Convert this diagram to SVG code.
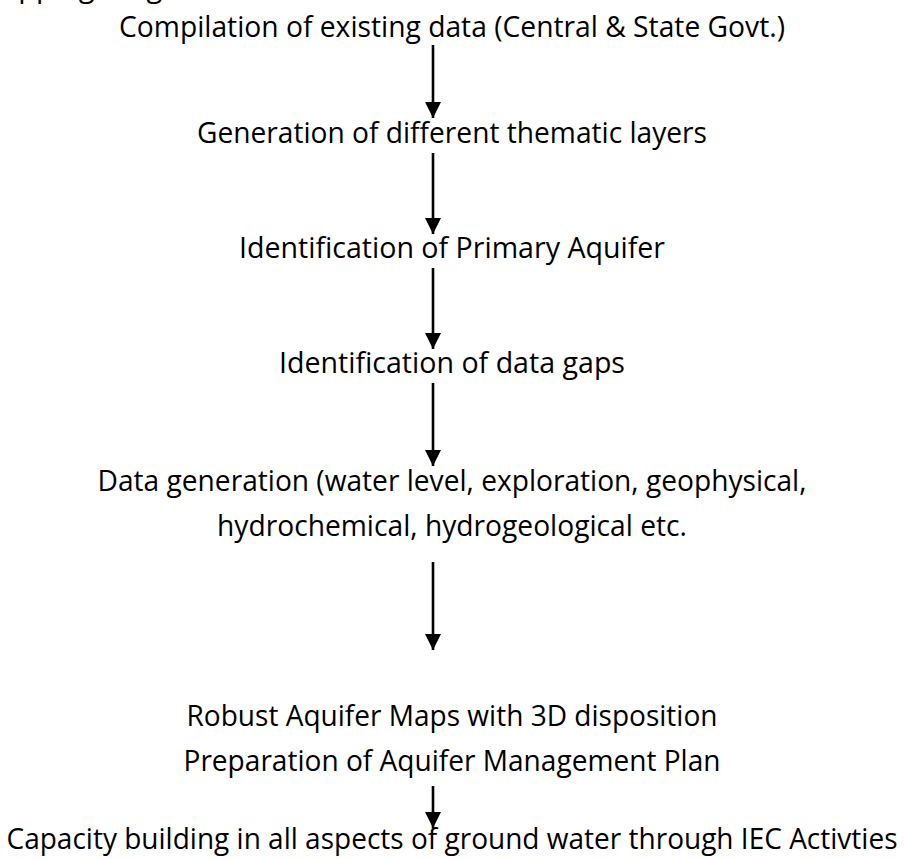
<svg xmlns="http://www.w3.org/2000/svg" width="904" height="859" viewBox="0 0 904 859">
<style>
text{font-family:"Open Sans","Noto Sans","Liberation Sans",sans-serif;font-size:29px;fill:#000;}
.c{text-anchor:middle;}
.arr{stroke:#000;stroke-width:2.6;fill:none;marker-end:url(#ah);}
</style>
<defs>
<marker id="ah" markerUnits="userSpaceOnUse" markerWidth="16" markerHeight="16" refX="16" refY="8" orient="auto">
<path d="M0,0 L16,8 L0,16 z" fill="#000"/>
</marker>
</defs>
<rect width="904" height="859" fill="#fff"/>
<text x="-24" y="-3">Mapping Diagram</text>
<g id="n1"><text class="c" x="452" y="37" textLength="666" lengthAdjust="spacingAndGlyphs">Compilation of existing data (Central &amp; State Govt.)</text></g>
<g id="n2"><text class="c" x="452" y="143" textLength="510" lengthAdjust="spacingAndGlyphs">Generation of different thematic layers</text></g>
<g id="n3"><text class="c" x="452" y="258" textLength="426" lengthAdjust="spacingAndGlyphs">Identification of Primary Aquifer</text></g>
<g id="n4"><text class="c" x="452" y="373" textLength="346" lengthAdjust="spacingAndGlyphs">Identification of data gaps</text></g>
<g id="n5"><text class="c" x="452" y="491" textLength="709" lengthAdjust="spacingAndGlyphs">Data generation (water level, exploration, geophysical,</text>
<text class="c" x="452" y="536" textLength="470" lengthAdjust="spacingAndGlyphs">hydrochemical, hydrogeological etc.</text></g>
<g id="n6"><text class="c" x="452" y="726" textLength="531" lengthAdjust="spacingAndGlyphs">Robust Aquifer Maps with 3D disposition</text>
<text class="c" x="452" y="771" textLength="537" lengthAdjust="spacingAndGlyphs">Preparation of Aquifer Management Plan</text></g>
<g id="n7"><text class="c" x="452" y="849" textLength="891" lengthAdjust="spacingAndGlyphs">Capacity building in all aspects of ground water through IEC Activties</text></g>
<g id="connectors">
<line class="arr" x1="433" y1="45" x2="433" y2="118"/>
<line class="arr" x1="433" y1="153" x2="433" y2="234"/>
<line class="arr" x1="433" y1="268" x2="433" y2="349"/>
<line class="arr" x1="433" y1="383" x2="433" y2="466"/>
<line class="arr" x1="433" y1="562" x2="433" y2="650"/>
<line class="arr" x1="433" y1="786" x2="433" y2="828"/>
</g>
</svg>
